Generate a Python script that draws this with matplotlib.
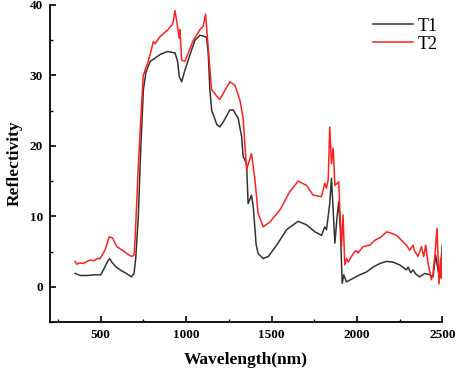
import matplotlib
matplotlib.use("Agg")
import matplotlib.pyplot as plt
from matplotlib.ticker import MultipleLocator

plt.rcParams['font.family'] = ['Liberation Serif', 'DejaVu Serif']

wl1 = [350, 380, 420, 460, 500, 520, 540, 552, 565, 590, 620, 650, 680, 695, 705,
       720, 735, 750, 765, 790, 820, 850, 890, 935, 950, 960, 974, 990, 1022, 1052,
       1081, 1100, 1120, 1130, 1139, 1150, 1160, 1180, 1198, 1220, 1256, 1276, 1305,
       1325, 1334, 1354, 1363, 1383, 1393, 1410, 1422, 1451, 1481, 1530, 1588, 1656,
       1705, 1754, 1793, 1812, 1822, 1841, 1851, 1861, 1871, 1884, 1894, 1904, 1914,
       1923, 1939, 1978, 2017, 2056, 2095, 2134, 2173, 2212, 2251, 2290, 2300, 2315,
       2329, 2345, 2368, 2397, 2427, 2446, 2461, 2475, 2485, 2500]
t1 = [1.9, 1.6, 1.6, 1.7, 1.7, 2.6, 3.6, 4.0, 3.5, 2.8, 2.3, 1.9, 1.4, 1.9, 4.0,
      10, 20, 28, 30.5, 32, 32.5, 33, 33.4, 33.2, 32, 29.8, 29.1, 30.5, 32.9, 35,
      35.7, 35.6, 35.4, 33, 28, 25, 24.4, 23, 22.7, 23.5, 25.1, 25.1, 23.9,
      21.3, 18.5, 17.5, 11.8, 13, 11.4, 6, 4.7, 4.0, 4.3, 5.9, 8.1, 9.3,
      8.8, 7.8, 7.3, 8.5, 8.1, 11.8, 15.4, 10.9, 6.2, 9.9, 12.1, 7.6, 0.5,
      1.7, 0.7, 1.2, 1.7, 2.1, 2.8, 3.3, 3.6, 3.5, 3.1, 2.4, 2.8, 2.0,
      2.4, 1.8, 1.4, 1.9, 1.7, 1.4, 4.5, 2.4, 1.4, 5.9]

wl2 = [350, 360, 375, 398, 420, 437, 460, 480, 496, 525, 550, 570, 594, 632, 660,
       681, 695, 701, 720, 735, 749, 778, 795, 808, 818, 847, 870, 894, 910, 921,
       935, 948, 960, 964, 974, 993, 1042, 1081, 1100, 1114, 1129, 1149, 1159, 1188,
       1198, 1230, 1256, 1286, 1315, 1334, 1354, 1383, 1403, 1422, 1451, 1491, 1549,
       1607, 1656, 1705, 1744, 1793, 1812, 1822, 1832, 1841, 1851, 1861, 1871, 1881,
       1894, 1900, 1910, 1919, 1929, 1939, 1949, 1968, 1988, 1998, 2007, 2036, 2075,
       2105, 2144, 2173, 2202, 2232, 2261, 2290, 2309, 2329, 2339, 2358, 2378, 2391,
       2403, 2417, 2436, 2446, 2456, 2469, 2481, 2490, 2495, 2500]
t2 = [3.6, 3.2, 3.4, 3.3, 3.6, 3.8, 3.7, 4.0, 4.0, 5.2, 7.1, 6.9, 5.7, 5.1, 4.6,
      4.3, 4.5, 6.6, 17, 24, 30, 32, 33.5, 34.8, 34.5, 35.5, 36, 36.5, 37, 37.2,
      39.2, 37.2, 35.3, 36.5, 32.2, 32, 35, 36.5, 37, 38.7, 34.1, 28, 27.7, 26.8,
      26.6, 28, 29.1, 28.6, 26.5, 23.9, 16.6, 18.9, 15.2, 10.4, 8.5, 9.2, 10.9,
      13.5, 15.0, 14.4, 13, 12.8, 14.7, 14, 15.2, 22.7, 17.5, 19.7, 14.4, 14.6,
      14.9, 10.9, 5.7, 10.2, 3.1, 4.0, 3.5, 4.3, 5.0, 5.1, 4.8, 5.7, 5.9,
      6.6, 7.1, 7.8, 7.6, 7.3, 6.6, 5.9, 5.2, 5.9, 5.0, 4.3, 5.7, 4.3,
      5.9, 3.3, 1.0, 1.9, 4.3, 8.3, 0.4, 4.0, 1.2, 5.5]

fig = plt.figure(figsize=(4.57, 3.70), dpi=100)
ax = fig.add_axes([0.1094, 0.1297, 0.8584, 0.8568])
ax.plot(wl1, t1, color='#333333', lw=1.1, label='T1')
ax.plot(wl2, t2, color='#ff2020', lw=1.1, label='T2')

ax.set_xlim(203, 2500)
ax.set_ylim(-5, 40)
ax.xaxis.set_major_locator(MultipleLocator(500))
ax.xaxis.set_minor_locator(MultipleLocator(250))
ax.yaxis.set_major_locator(MultipleLocator(10))
ax.yaxis.set_minor_locator(MultipleLocator(5))
for s in ['top', 'right']:
    ax.spines[s].set_visible(False)
for s in ['left', 'bottom']:
    ax.spines[s].set_linewidth(1.3)
ax.tick_params(which='major', direction='in', length=4, width=1.2,
               labelsize=9.5, pad=5)
ax.tick_params(which='minor', direction='in', length=2.5, width=1.0)
for lab in ax.get_xticklabels() + ax.get_yticklabels():
    lab.set_fontweight('bold')

ax.set_xlabel('Wavelength(nm)', fontsize=12.5, fontweight='bold', labelpad=8)
ax.set_ylabel('Reflectivity', fontsize=12.5, fontweight='bold', labelpad=5)

ax.legend(loc='upper right', frameon=False, fontsize=13, handlelength=2.2,
          handletextpad=0.25, labelspacing=0.05, borderpad=0.2,
          bbox_to_anchor=(1.02, 1.0))

fig.savefig('out.png', dpi=100)
